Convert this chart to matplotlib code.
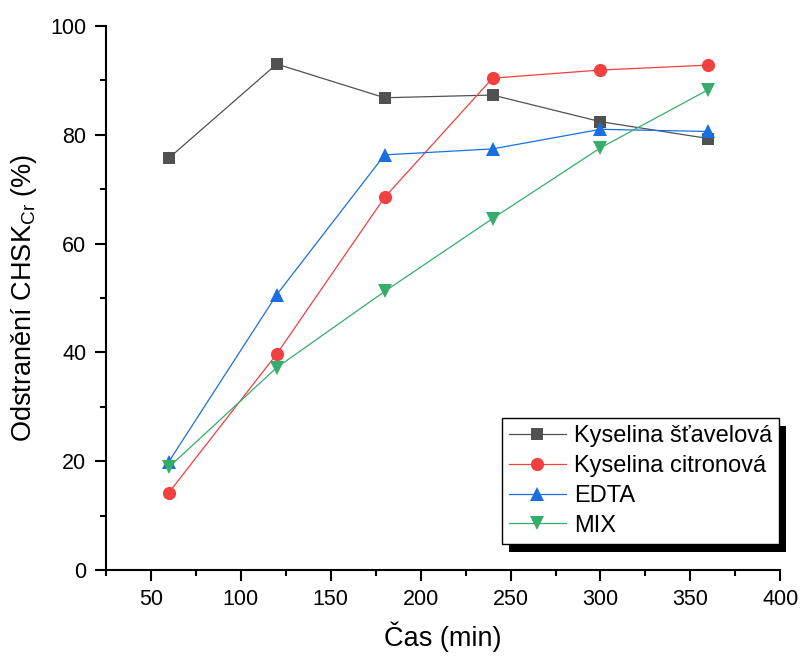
import matplotlib
matplotlib.use("Agg")
import matplotlib.pyplot as plt
from matplotlib.patches import Rectangle
from matplotlib.ticker import MultipleLocator

plt.rcParams['font.family'] = ['Liberation Sans', 'DejaVu Sans']

time_min = [60, 120, 180, 240, 300, 360]
stavelova = [75.7, 93.0, 86.8, 87.3, 82.4, 79.3]
citronova = [14.2, 39.7, 68.5, 90.4, 91.9, 92.8]
edta = [19.9, 50.6, 76.3, 77.4, 81.0, 80.6]
mix = [18.9, 37.2, 51.2, 64.6, 77.6, 88.3]

labels = ["Kyselina šťavelová", "Kyselina citronová", "EDTA", "MIX"]
colors = ["#515151", "#F14040", "#1A6FDF", "#37AD6B"]
markers = ["s", "o", "^", "v"]
series = [stavelova, citronova, edta, mix]

fig = plt.figure(figsize=(8.02, 6.57), dpi=100)
ax = fig.add_axes([0.132, 0.1325, 0.841, 0.828])

msizes = [8.5, 9.5, 10, 10]
for s, lab, c, m, ms in zip(series, labels, colors, markers, msizes):
    ax.plot(time_min, s, color=c, marker=m, markersize=ms, linewidth=0.9,
            label=lab, markeredgewidth=0)

ax.set_xlim(25, 400)
ax.set_ylim(0, 100)
ax.xaxis.set_major_locator(MultipleLocator(50))
ax.xaxis.set_minor_locator(MultipleLocator(25))
ax.yaxis.set_major_locator(MultipleLocator(20))
ax.yaxis.set_minor_locator(MultipleLocator(10))
ax.spines['top'].set_visible(False)
ax.spines['right'].set_visible(False)
for sp in ['left', 'bottom']:
    ax.spines[sp].set_linewidth(1.5)
ax.tick_params(axis='both', which='major', direction='out', length=8, width=1.5, labelsize=15.5, pad=6)
ax.tick_params(axis='both', which='minor', direction='out', length=4, width=1.5)
ax.set_xticks([50, 100, 150, 200, 250, 300, 350, 400])

ax.set_xlabel("Čas (min)", fontsize=19.5, labelpad=8)
ax.set_ylabel("Odstranění CHSK$_{\\mathregular{Cr}}$ (%)", fontsize=19.5, labelpad=8)

leg = ax.legend(loc='lower right', bbox_to_anchor=(0.9985, 0.048), fontsize=17,
                frameon=True, fancybox=False, edgecolor='black', framealpha=1,
                handlelength=2.4, handletextpad=0.35, borderpad=0.3, labelspacing=0.33,
                borderaxespad=0)
leg.get_frame().set_linewidth(1.0)
leg.set_zorder(10)

fig.canvas.draw()
bb = leg.get_frame().get_window_extent()
shadow = Rectangle((bb.x0 + 7, bb.y0 - 8), bb.width, bb.height, transform=None,
                   facecolor='black', edgecolor='none', clip_on=False)
shadow.set_zorder(9)
ax.add_artist(shadow)

fig.savefig("out.png", dpi=100)
